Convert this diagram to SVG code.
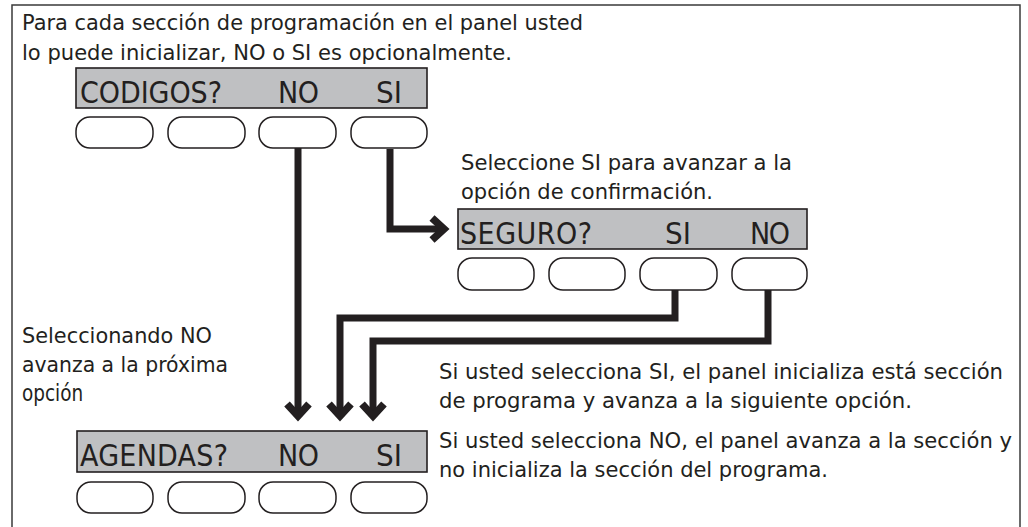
<svg xmlns="http://www.w3.org/2000/svg" width="1028" height="527" viewBox="0 0 1028 527">
<style>
.t{font-family:"DejaVu Sans","Liberation Sans",sans-serif;font-size:20.5px;fill:#231f20}
.lcd{font-family:"DejaVu Sans","Liberation Sans",sans-serif;font-size:31px;fill:#231f20}
.panel{fill:#bfc0c2;stroke:#231f20;stroke-width:1.6}
.btn{fill:#ffffff;stroke:#231f20;stroke-width:1.5}
.conn{fill:none;stroke:#231f20;stroke-width:7;stroke-linejoin:miter;stroke-linecap:butt}
</style>
<defs>
<marker id="chev" markerUnits="userSpaceOnUse" markerWidth="40" markerHeight="40" viewBox="-20 -20 40 40" refX="0" refY="0" orient="auto">
<path d="M -12 -11 L 0 0 L -12 11" fill="none" stroke="#231f20" stroke-width="7.5" stroke-linejoin="miter"/>
</marker>
</defs>
<rect x="0" y="0" width="1028" height="527" fill="#ffffff"/>
<rect x="12" y="5" width="1008" height="540" fill="none" stroke="#3a3a3a" stroke-width="1.5"/>

<g id="intro">
<text class="t" x="22" y="30" textLength="561" lengthAdjust="spacingAndGlyphs">Para cada sección de programación en el panel usted</text>
<text class="t" x="22" y="60" textLength="490" lengthAdjust="spacingAndGlyphs">lo puede inicializar, NO o SI es opcionalmente.</text>
</g>

<g id="codigos">
<rect class="panel" x="76" y="68" width="351" height="40"/>
<text class="lcd" transform="translate(80 103) scale(0.87 1)" textLength="163.2" lengthAdjust="spacing">CODIGOS?</text>
<text class="lcd" transform="translate(278 103) scale(0.87 1)" textLength="47.1" lengthAdjust="spacing">NO</text>
<text class="lcd" transform="translate(376 103) scale(0.9 1)">SI</text>
<rect class="btn" x="76" y="117" width="77" height="31" rx="14" ry="14"/>
<rect class="btn" x="168" y="117" width="77" height="31" rx="14" ry="14"/>
<rect class="btn" x="259" y="117" width="77" height="31" rx="14" ry="14"/>
<rect class="btn" x="351" y="117" width="76" height="31" rx="14" ry="14"/>
</g>

<g id="seleccione-note">
<text class="t" x="461" y="170" textLength="331" lengthAdjust="spacingAndGlyphs">Seleccione SI para avanzar a la</text>
<text class="t" x="461" y="199" textLength="252" lengthAdjust="spacingAndGlyphs">opción de confirmación.</text>
</g>

<g id="seguro">
<rect class="panel" x="458" y="209" width="349" height="40"/>
<text class="lcd" transform="translate(460 244) scale(0.87 1)" textLength="151.7" lengthAdjust="spacing">SEGURO?</text>
<text class="lcd" transform="translate(665 244) scale(0.9 1)">SI</text>
<text class="lcd" transform="translate(750 244) scale(0.87 1)" textLength="46" lengthAdjust="spacing">NO</text>
<rect class="btn" x="458" y="258" width="76" height="32" rx="14" ry="14"/>
<rect class="btn" x="549" y="258" width="76" height="32" rx="14" ry="14"/>
<rect class="btn" x="640" y="258" width="77" height="32" rx="14" ry="14"/>
<rect class="btn" x="732" y="258" width="75" height="32" rx="14" ry="14"/>
</g>

<g id="no-note">
<text class="t" x="22" y="343" textLength="190" lengthAdjust="spacingAndGlyphs">Seleccionando NO</text>
<text class="t" x="22" y="372" textLength="206" lengthAdjust="spacingAndGlyphs">avanza a la próxima</text>
<text class="t" transform="translate(22 401) scale(0.82 1)" style="font-size:22.5px">opción</text>
</g>

<g id="si-note">
<text class="t" x="439" y="379" textLength="564" lengthAdjust="spacingAndGlyphs">Si usted selecciona SI, el panel inicializa está sección</text>
<text class="t" x="439" y="408" textLength="473" lengthAdjust="spacingAndGlyphs">de programa y avanza a la siguiente opción.</text>
</g>

<g id="no-note-right">
<text class="t" x="439" y="448" textLength="573" lengthAdjust="spacingAndGlyphs">Si usted selecciona NO, el panel avanza a la sección y</text>
<text class="t" x="439" y="477" textLength="389" lengthAdjust="spacingAndGlyphs">no inicializa la sección del programa.</text>
</g>

<g id="agendas">
<rect class="panel" x="77" y="431" width="350" height="41"/>
<text class="lcd" transform="translate(80 466) scale(0.87 1)" textLength="170.1" lengthAdjust="spacing">AGENDAS?</text>
<text class="lcd" transform="translate(278 466) scale(0.87 1)" textLength="47.1" lengthAdjust="spacing">NO</text>
<text class="lcd" transform="translate(376 466) scale(0.9 1)">SI</text>
<rect class="btn" x="77" y="482" width="76" height="31" rx="14" ry="14"/>
<rect class="btn" x="168" y="482" width="77" height="31" rx="14" ry="14"/>
<rect class="btn" x="259" y="482" width="77" height="31" rx="14" ry="14"/>
<rect class="btn" x="351" y="482" width="76" height="31" rx="14" ry="14"/>
</g>

<g id="connectors">
<path class="conn" d="M 298 148 V 416" marker-end="url(#chev)"/>
<path class="conn" d="M 390 149 V 229 H 444" marker-end="url(#chev)"/>
<path class="conn" d="M 675 290 V 318 H 340 V 416" marker-end="url(#chev)"/>
<path class="conn" d="M 768 290 V 341 H 373 V 416" marker-end="url(#chev)"/>
</g>
</svg>
